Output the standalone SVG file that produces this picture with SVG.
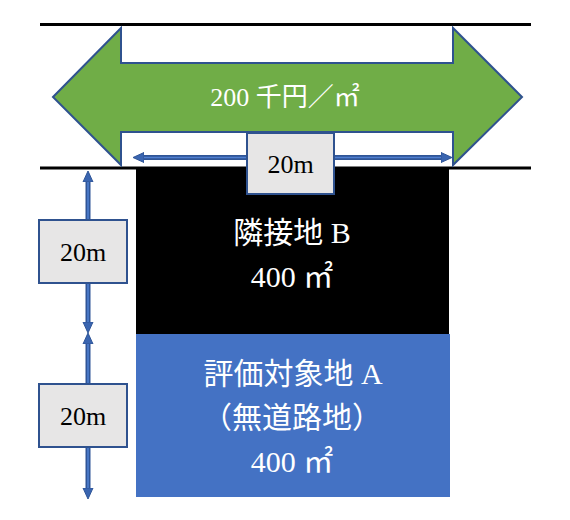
<svg xmlns="http://www.w3.org/2000/svg" width="570" height="520" viewBox="0 0 570 520">
<style>
.t{font-family:"Liberation Serif","Noto Sans CJK JP",serif;text-anchor:middle}
.w{fill:#ffffff}
.k{fill:#000000}
.box{fill:#E7E6E6;stroke:#2F528F;stroke-width:2}
.ao{stroke:#2F5597;stroke-width:5;fill:none}
.ai{stroke:#4F7FD0;stroke-width:1.6;fill:none}
.road{stroke:#000;stroke-width:3}
</style>
<defs>
<marker id="ah" markerUnits="userSpaceOnUse" markerWidth="12" markerHeight="12" refX="0" refY="6" orient="auto-start-reverse" viewBox="0 0 12 12">
<path d="M0,1 L11,6 L0,11 z" fill="#3A65B0" stroke="#2F5597" stroke-width="1"/>
</marker>
</defs>
<rect width="570" height="520" fill="#ffffff"/>
<g id="roads">
<line class="road" x1="40" y1="24.5" x2="531" y2="24.5"/>
<line class="road" x1="40" y1="168" x2="531" y2="168"/>
</g>
<g id="neighbor-B">
<rect x="136" y="168" width="313" height="166" fill="#000000"/>
<text class="t w" x="292" y="243" font-size="30">隣接地 B</text>
<text class="t w" x="292" y="287" font-size="30">400 ㎡</text>
</g>
<g id="subject-A">
<rect x="136" y="334" width="314" height="163" fill="#4472C4"/>
<text class="t w" x="293" y="384" font-size="30">評価対象地 A</text>
<text class="t w" x="292" y="428" font-size="30">（無道路地）</text>
<text class="t w" x="292" y="472" font-size="30">400 ㎡</text>
</g>
<g id="price-arrow">
<polygon points="53,97 121,28 121,63 453,63 453,28 522,97 453,165 453,132 121,132 121,165" fill="#70AD47" stroke="#2F528F" stroke-width="2"/>
<text class="t w" x="285" y="106" font-size="26">200 千円／㎡</text>
</g>
<g id="connectors">
<line class="ao" x1="144" y1="157.5" x2="441" y2="157.5" marker-start="url(#ah)" marker-end="url(#ah)"/>
<line class="ai" x1="144" y1="157.5" x2="441" y2="157.5"/>
<line class="ao" x1="88" y1="182" x2="88" y2="322" marker-start="url(#ah)" marker-end="url(#ah)"/>
<line class="ai" x1="88" y1="182" x2="88" y2="322"/>
<line class="ao" x1="88" y1="344" x2="88" y2="488" marker-start="url(#ah)" marker-end="url(#ah)"/>
<line class="ai" x1="88" y1="344" x2="88" y2="488"/>
</g>
<g id="label-width">
<rect class="box" x="247" y="133" width="87" height="61"/>
<text class="t k" x="290.5" y="173" font-size="26">20m</text>
</g>
<g id="label-depth-B">
<rect class="box" x="39" y="220" width="88" height="63"/>
<text class="t k" x="83" y="261" font-size="26">20m</text>
</g>
<g id="label-depth-A">
<rect class="box" x="39" y="384" width="88" height="63"/>
<text class="t k" x="83" y="425" font-size="26">20m</text>
</g>
</svg>
